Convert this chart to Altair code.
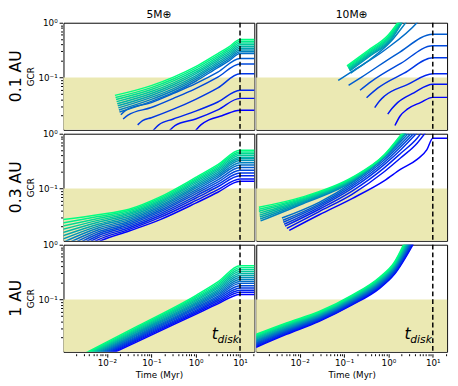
import altair as alt
import pandas as pd

ROWS = ["0.1 AU", "0.3 AU", "1 AU"]
COLS = ["5M⊕", "10M⊕"]

# matplotlib "winter" colormap, index 0 = bluest ... 14 = greenest
WINTER = ["#%02x%02x%02x" % (0, round(255 * i / 14), round(255 * (1 - 0.5 * i / 14))) for i in range(15)]
SHADE = "#ebe9b3"

# ---- values: (log10 time [Myr], log10 GCR) ----
# every list of lines goes from the top (greenest) line to the bottom (bluest) one

PANEL_A = [  # 5 M_earth, 0.1 AU
    [(-1.82, -1.329), (-1.0, -1.150), (-0.5, -0.994), (0, -0.802), (0.5, -0.563), (0.75, -0.443), (1, -0.305)],
    [(-1.807, -1.367), (-1, -1.186), (-0.5, -1.029), (0, -0.836), (0.5, -0.595), (0.75, -0.475), (1, -0.337)],
    [(-1.794, -1.405), (-1, -1.222), (-0.5, -1.064), (0, -0.869), (0.5, -0.627), (0.75, -0.507), (1, -0.369)],
    [(-1.781, -1.443), (-1, -1.258), (-0.5, -1.099), (0, -0.903), (0.5, -0.659), (0.75, -0.539), (1, -0.401)],
    [(-1.768, -1.481), (-1, -1.294), (-0.5, -1.134), (0, -0.936), (0.5, -0.691), (0.75, -0.571), (1, -0.433)],
    [(-1.755, -1.519), (-1, -1.330), (-0.5, -1.169), (0, -0.970), (0.5, -0.723), (0.75, -0.603), (1, -0.465)],
    [(-1.742, -1.557), (-1, -1.366), (-0.5, -1.204), (0, -1.003), (0.5, -0.755), (0.75, -0.635), (1, -0.497)],
    [(-1.729, -1.595), (-1, -1.402), (-0.5, -1.239), (0, -1.037), (0.5, -0.787), (0.75, -0.667), (1, -0.529)],
    [(-1.716, -1.633), (-1, -1.438), (-0.5, -1.274), (0, -1.070), (0.5, -0.819), (0.75, -0.699), (1, -0.561)],
    [(-1.686, -1.683), (-1.562, -1.593), (-1, -1.461), (-0.5, -1.293), (0, -1.114), (0.5, -0.904), (1, -0.653)],
    [(-1.635, -1.760), (-1.526, -1.689), (-1, -1.551), (-0.5, -1.383), (0, -1.204), (0.5, -0.994), (1, -0.754)],
    [(-1.307, -1.868), (-1.197, -1.790), (-1, -1.737), (-0.5, -1.581), (0, -1.401), (0.5, -1.192), (1, -0.934)],
    [(-0.99, -2.0), (-0.832, -1.868), (-0.5, -1.760), (0, -1.617), (0.5, -1.449), (1, -1.234)],
    [(-0.62, -2.0), (-0.467, -1.880), (0, -1.760), (0.5, -1.593), (1, -1.383)],
    [(-0.03, -2.0), (0.117, -1.868), (0.299, -1.778), (0.591, -1.701), (1, -1.599)],
]

PANEL_B = [  # 10 M_earth, 0.1 AU
    [(-0.934, -0.790), (-0.456, -0.503), (-0.015, -0.234), (0.243, 0.036), (0.30, 0.10)],
    [(-0.92, -0.805), (-0.44, -0.52), (0.0, -0.25), (0.26, 0.036), (0.315, 0.10)],
    [(-0.91, -0.82), (-0.43, -0.535), (0.01, -0.265), (0.275, 0.036), (0.33, 0.10)],
    [(-0.90, -0.835), (-0.42, -0.55), (0.02, -0.28), (0.29, 0.036), (0.345, 0.10)],
    [(-0.89, -0.85), (-0.41, -0.565), (0.03, -0.295), (0.305, 0.036), (0.36, 0.10)],
    [(-0.88, -0.865), (-0.40, -0.58), (0.04, -0.31), (0.32, 0.036), (0.375, 0.10)],
    [(-0.87, -0.88), (-0.39, -0.595), (0.05, -0.325), (0.335, 0.036), (0.39, 0.10)],
    [(-0.85, -0.92), (-0.529, -0.74), (0.059, -0.34), (0.426, 0.036), (0.48, 0.09)],
    [(-1.132, -1.054), (-0.824, -0.892), (-0.088, -0.503), (0.684, 0.036), (0.75, 0.10)],
    [(-0.897, -1.144), (-0.603, -0.994), (0.206, -0.563), (1, -0.210)],
    [(-0.640, -1.234), (-0.382, -1.072), (0.279, -0.743), (1, -0.419)],
    [(-0.493, -1.371), (-0.235, -1.192), (0.353, -0.922), (1, -0.641)],
    [(-0.309, -1.551), (-0.2, -1.43), (-0.088, -1.341), (0.426, -1.132), (1, -0.934)],
    [(-0.015, -1.671), (0.08, -1.57), (0.206, -1.461), (0.574, -1.281), (1, -1.126)],
    [(0.147, -1.880), (0.26, -1.71), (0.426, -1.581), (0.721, -1.461), (1, -1.365)],
]

C_LOGT = [-3.0, -2.2, -1.5, -0.8, 0.0, 0.5, 1.0]   # 5 M_earth, 0.3 AU
C_LOGGCR = [
    [-1.571, -1.48, -1.38, -1.155, -0.80, -0.565, -0.304],
    [-1.631, -1.515, -1.405, -1.18, -0.825, -0.592, -0.333],
    [-1.69, -1.55, -1.43, -1.205, -0.85, -0.619, -0.363],
    [-1.75, -1.585, -1.455, -1.23, -0.875, -0.646, -0.393],
    [-1.81, -1.62, -1.48, -1.255, -0.905, -0.674, -0.429],
    [-1.869, -1.655, -1.51, -1.28, -0.935, -0.706, -0.458],
    [-1.93, -1.69, -1.54, -1.31, -0.965, -0.738, -0.488],
    [-1.99, -1.725, -1.57, -1.34, -0.995, -0.770, -0.530],
    [-2.05, -1.76, -1.60, -1.37, -1.03, -0.802, -0.571],
    [-2.11, -1.795, -1.63, -1.40, -1.065, -0.844, -0.619],
    [-2.17, -1.83, -1.66, -1.43, -1.10, -0.886, -0.667],
    [-2.23, -1.865, -1.69, -1.46, -1.14, -0.928, -0.720],
    [-2.29, -1.90, -1.72, -1.495, -1.18, -0.970, -0.768],
    [-2.35, -1.94, -1.75, -1.53, -1.225, -1.023, -0.827],
    [-2.41, -1.98, -1.78, -1.571, -1.27, -1.07, -0.869],
]

PANEL_D = [  # 10 M_earth, 0.3 AU
    [(-2.92, -1.345), (-1.93, -1.155), (-0.82, -0.798), (-0.088, -0.381), (0.279, -0.024), (0.375, 0.071)],
    [(-2.92, -1.381), (-1.93, -1.173), (-0.82, -0.810), (-0.088, -0.387), (0.279, -0.036), (0.387, 0.071)],
    [(-2.92, -1.417), (-1.93, -1.190), (-0.82, -0.821), (-0.088, -0.393), (0.279, -0.048), (0.40, 0.071)],
    [(-2.904, -1.452), (-1.93, -1.208), (-0.82, -0.833), (-0.088, -0.399), (0.279, -0.060), (0.412, 0.071)],
    [(-2.904, -1.488), (-1.93, -1.226), (-0.82, -0.845), (-0.088, -0.405), (0.279, -0.071), (0.425, 0.071)],
    [(-2.897, -1.524), (-1.93, -1.244), (-0.82, -0.857), (-0.088, -0.411), (0.279, -0.083), (0.437, 0.071)],
    [(-2.89, -1.560), (-1.93, -1.262), (-0.82, -0.869), (-0.088, -0.417), (0.279, -0.095), (0.45, 0.071)],
    [(-2.882, -1.595), (-1.93, -1.280), (-0.82, -0.881), (-0.088, -0.423), (0.279, -0.107), (0.462, 0.071)],
    [(-2.40, -1.542), (-1.56, -1.256), (-0.82, -0.899), (-0.088, -0.440), (0.279, -0.143), (0.522, 0.071)],
    [(-2.38, -1.583), (-1.56, -1.286), (-0.82, -0.929), (-0.088, -0.476), (0.279, -0.190), (0.588, 0.071)],
    [(-2.37, -1.619), (-1.56, -1.315), (-0.82, -0.964), (-0.088, -0.518), (0.279, -0.238), (0.647, 0.071)],
    [(-2.35, -1.655), (-1.56, -1.345), (-0.82, -1.0), (-0.088, -0.560), (0.279, -0.292), (0.706, 0.071)],
    [(-2.33, -1.690), (-1.56, -1.381), (-0.82, -1.048), (-0.088, -0.619), (0.279, -0.357), (0.647, -0.083), (0.794, 0.071)],
    [(-2.29, -1.732), (-1.56, -1.423), (-0.82, -1.107), (-0.088, -0.690), (0.279, -0.440), (0.647, -0.173), (0.882, 0.071)],
    [(-2.235, -1.768), (-1.56, -1.482), (-0.82, -1.185), (-0.088, -0.857), (0.279, -0.649), (0.647, -0.470), (0.868, -0.292), (1, -0.083)],
]

E_LOGT = [-2.6, -1.3, 0.0, 0.5, 1.0]   # 5 M_earth, 1 AU
E_LOGGCR = [
    [-2.03, -1.486, -0.93, -0.68, -0.383],
    [-2.046, -1.506, -0.955, -0.709, -0.419],
    [-2.063, -1.526, -0.979, -0.738, -0.455],
    [-2.079, -1.546, -1.004, -0.766, -0.491],
    [-2.096, -1.566, -1.028, -0.795, -0.527],
    [-2.112, -1.586, -1.053, -0.824, -0.563],
    [-2.128, -1.606, -1.077, -0.853, -0.599],
    [-2.145, -1.626, -1.102, -0.882, -0.635],
    [-2.161, -1.646, -1.126, -0.910, -0.671],
    [-2.177, -1.666, -1.151, -0.939, -0.707],
    [-2.194, -1.686, -1.175, -0.968, -0.749],
    [-2.210, -1.706, -1.200, -0.997, -0.790],
    [-2.227, -1.726, -1.224, -1.025, -0.832],
    [-2.243, -1.746, -1.249, -1.054, -0.868],
    [-2.26, -1.767, -1.273, -1.083, -0.910],
]

F_LOGT = [-3.05, -2.3, -1.56, -0.82, -0.2, 0.13]   # 10 M_earth, 1 AU
F_LOGGCR = [
    [-1.66, -1.431, -1.222, -0.922, -0.594, -0.325],
    [-1.677, -1.446, -1.235, -0.935, -0.609, -0.341],
    [-1.694, -1.461, -1.248, -0.948, -0.623, -0.357],
    [-1.711, -1.476, -1.260, -0.961, -0.638, -0.373],
    [-1.729, -1.491, -1.273, -0.973, -0.652, -0.388],
    [-1.746, -1.506, -1.286, -0.986, -0.667, -0.404],
    [-1.763, -1.521, -1.299, -0.999, -0.681, -0.420],
    [-1.780, -1.536, -1.312, -1.012, -0.696, -0.436],
    [-1.797, -1.551, -1.324, -1.025, -0.711, -0.452],
    [-1.814, -1.566, -1.337, -1.038, -0.725, -0.468],
    [-1.831, -1.581, -1.350, -1.051, -0.740, -0.484],
    [-1.849, -1.596, -1.363, -1.063, -0.754, -0.499],
    [-1.866, -1.611, -1.375, -1.076, -0.769, -0.515],
    [-1.883, -1.626, -1.388, -1.089, -0.783, -0.531],
    [-1.90, -1.641, -1.401, -1.102, -0.798, -0.547],
]
F_EXIT_LOGT = [0.38, 0.396, 0.411, 0.427, 0.443, 0.459, 0.474, 0.49, 0.506, 0.521, 0.537, 0.553, 0.569, 0.584, 0.60]
F_EXIT_LOGGCR = 0.07

T_DISK = 10.0          # Myr
GCR_LIMIT = 0.1
HOLD_LOGT = 1.4        # GCR stays constant after t_disk (to the right edge)
LABEL_T, LABEL_GCR = 2.3, 0.019


def grid_lines(ts, table):
    return [list(zip(ts, vals)) for vals in table]


PANELS = {
    ("0.1 AU", "5M⊕"): PANEL_A,
    ("0.1 AU", "10M⊕"): PANEL_B,
    ("0.3 AU", "5M⊕"): grid_lines(C_LOGT, C_LOGGCR),
    ("0.3 AU", "10M⊕"): PANEL_D,
    ("1 AU", "5M⊕"): grid_lines(E_LOGT, E_LOGGCR),
    ("1 AU", "10M⊕"): [list(zip(F_LOGT, v)) + [(e, F_EXIT_LOGGCR)] for v, e in zip(F_LOGGCR, F_EXIT_LOGT)],
}

records = []
for (row, col), lines in PANELS.items():
    records.append(dict(row=row, col=col, kind="band", line="", idx=0, t=T_DISK, g=GCR_LIMIT, order=0))
    if row == "1 AU":
        records.append(dict(row=row, col=col, kind="label", line="", idx=0, t=LABEL_T, g=LABEL_GCR, order=0))
    n = len(lines)
    for k, pts in enumerate(lines):
        idx = n - 1 - k
        pts = list(pts)
        if pts[-1][0] == 1.0:
            pts.append((HOLD_LOGT, pts[-1][1]))
        for j, (lt, lg) in enumerate(pts):
            records.append(dict(row=row, col=col, kind="line", line=f"{row}|{col}|{idx:02d}",
                                idx=idx, t=10 ** lt, g=10 ** lg, order=j))

df = pd.DataFrame(records).sort_values(["row", "col", "idx", "order"], kind="stable")

X_MAJOR = [0.01, 0.1, 1, 10]
X_TICKS = sorted(set(X_MAJOR + [m * 10.0 ** d for d in range(-3, 2) for m in range(2, 10) if 0.00105 <= m * 10.0 ** d <= 21]))
Y_TICKS = sorted(set([0.1, 1.0] + [m * 10.0 ** d for d in (-2, -1) for m in range(2, 10) if m * 10.0 ** d >= 0.011]))

XS = alt.Scale(type="log", domain=[0.00105, 21.0], nice=False)
YS = alt.Scale(type="log", domain=[0.011, 1.0], nice=False)

x_axis = alt.Axis(
    values=X_TICKS, title="Time (Myr)", grid=False, domain=False,
    labelExpr="datum.value == 0.01 ? '10⁻²' : datum.value == 0.1 ? '10⁻¹' : datum.value == 1 ? '10⁰' : datum.value == 10 ? '10¹' : ''",
    tickSize={"condition": {"test": "datum.value == 0.01 || datum.value == 0.1 || datum.value == 1 || datum.value == 10", "value": 3.5}, "value": 2},
    tickColor="black", labelColor="black", titleColor="black", labelFontSize=9, titleFontSize=9,
    titleFontWeight="normal", labelOverlap=False, labelFlush=False, labelPadding=2, titlePadding=3,
)
y_axis = alt.Axis(
    values=Y_TICKS, title="GCR", grid=False, domain=False,
    labelExpr="datum.value == 1 ? '10⁰' : datum.value == 0.1 ? '10⁻¹' : ''",
    tickSize={"condition": {"test": "datum.value == 1 || datum.value == 0.1", "value": 3.5}, "value": 2},
    tickColor="black", labelColor="black", titleColor="black", labelFontSize=9, titleFontSize=9,
    titleFontWeight="normal", labelOverlap=False, labelFlush=False, labelPadding=2, titlePadding=2,
)

x_enc = alt.X("t:Q", scale=XS, axis=x_axis)
y_enc = alt.Y("g:Q", scale=YS, axis=y_axis)

band = alt.Chart().transform_filter("datum.kind == 'band'").mark_rect(color=SHADE).encode(
    x=alt.value(0), x2=alt.value("width"), y=y_enc, y2=alt.value("height"))

lines = alt.Chart().transform_filter("datum.kind == 'line'").mark_line(
    strokeWidth=1.5, clip=True, interpolate="monotone").encode(
    x=x_enc, y=y_enc,
    color=alt.Color("idx:O", scale=alt.Scale(domain=list(range(15)), range=WINTER), legend=None),
    detail="line:N", order="order:Q")

rule = alt.Chart().transform_filter("datum.kind == 'band'").mark_rule(
    color="black", strokeDash=[5, 3], strokeWidth=1.5).encode(x=x_enc)

t_txt = alt.Chart().transform_filter("datum.kind == 'label'").mark_text(
    text="t", fontStyle="italic", fontSize=16, align="left", baseline="alphabetic", color="black").encode(x=x_enc, y=y_enc)
disk_txt = alt.Chart().transform_filter("datum.kind == 'label'").mark_text(
    text="disk", fontStyle="italic", fontSize=11, align="left", baseline="alphabetic", dx=6, dy=4, color="black").encode(x=x_enc, y=y_enc)

panel = alt.layer(band, lines, rule, t_txt, disk_txt).properties(width=196, height=110)

chart = panel.facet(
    data=df,
    row=alt.Row("row:N", sort=ROWS, header=alt.Header(title=None, labelAngle=-90, labelFontSize=16,
                                                      labelOrient="left", labelPadding=-5, labelColor="black")),
    column=alt.Column("col:N", sort=COLS, header=alt.Header(title=None, labelFontSize=11, labelPadding=1,
                                                            labelColor="black")),
    spacing=0,
).configure(font="DejaVu Sans", padding={"left": 0, "top": -4, "right": 2, "bottom": 2}).configure_view(
    stroke="black", strokeWidth=1)

chart.save("out.html", embed_options={"renderer": "svg", "actions": False})
